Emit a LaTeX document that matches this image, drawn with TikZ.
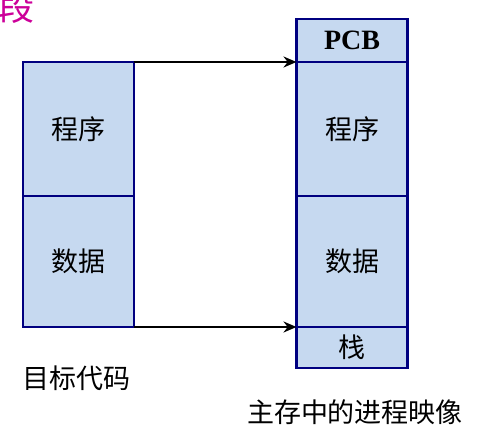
\documentclass[tikz,border=0pt]{standalone}
\usepackage{fontspec}
\setmainfont{Liberation Serif}
\newfontfamily\cjk{Noto Sans CJK SC}
\usetikzlibrary{arrows.meta}
\definecolor{boxfill}{RGB}{198,217,240}
\definecolor{boxline}{RGB}{0,0,128}
\definecolor{segcol}{RGB}{204,0,153}
\tikzset{
  seg/.style={draw=boxline, fill=boxfill, line width=2.5pt, inner sep=0pt, outer sep=0pt,
    minimum width=111pt, font=\cjk\fontsize{27}{27}\selectfont},
  conn/.style={line width=2.2pt, -{Stealth[length=13pt,width=11pt]}},
  lbl/.style={inner sep=0pt, font=\cjk\fontsize{27}{27}\selectfont}
}
\begin{document}
\begin{tikzpicture}[x=1pt,y=-1pt]
\useasboundingbox (0,0) rectangle (491,443);
% left column
\node[seg, minimum height=134pt] (L1) at (78.5,129) {程序};
\node[seg, minimum height=131pt] (L2) at (78.5,261.5) {数据};
% right column
\node[seg, minimum height=43pt, font=\bfseries\fontsize{28}{28}\selectfont] (R0) at (352,40.5) {PCB};
\node[seg, minimum height=134pt] (R1) at (352,129) {程序};
\node[seg, minimum height=131pt] (R2) at (352,261.5) {数据};
\node[seg, minimum height=41pt] (R3) at (352,347.5) {栈};
% connectors
\draw[conn] (L1.north east) -- (R1.north west);
\draw[conn] (L2.south east) -- (R3.north west);
% labels
\node[lbl] (t1) at (77,378) {目标代码};
\node[lbl] (t2) at (355,412) {主存中的进程映像};
\node[lbl, text=segcol, font=\cjk\fontsize{36}{36}\selectfont, anchor=base west] (seg) at (-2,21) {段};
\end{tikzpicture}
\end{document}
